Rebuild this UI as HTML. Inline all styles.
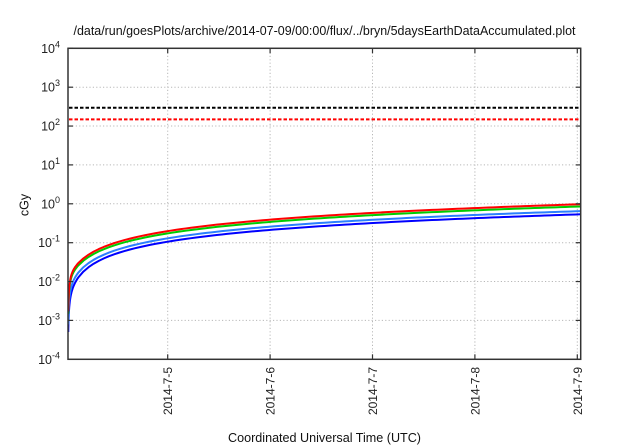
<!DOCTYPE html>
<html>
<head>
<meta charset="utf-8">
<style>
html,body{margin:0;padding:0;background:#fff;}
svg{display:block;font-family:"Liberation Sans",Arial,sans-serif;}
</style>
</head>
<body>
<svg id="s" width="640" height="448" viewBox="0 0 640 448" xmlns="http://www.w3.org/2000/svg">
<rect x="0" y="0" width="640" height="448" fill="#fff"/>
<defs><clipPath id="pc"><rect x="68" y="48.3" width="512.7" height="311"/></clipPath></defs>
<!-- grid -->
<g stroke="#b8b8b8" stroke-width="1" stroke-dasharray="1.2,2.2" fill="none">
<line x1="69" y1="87.2" x2="580" y2="87.2"/>
<line x1="69" y1="126.05" x2="580" y2="126.05"/>
<line x1="69" y1="164.9" x2="580" y2="164.9"/>
<line x1="69" y1="203.8" x2="580" y2="203.8"/>
<line x1="69" y1="242.7" x2="580" y2="242.7"/>
<line x1="69" y1="281.55" x2="580" y2="281.55"/>
<line x1="69" y1="320.4" x2="580" y2="320.4"/>
<line x1="167.7" y1="49" x2="167.7" y2="359"/>
<line x1="270.1" y1="49" x2="270.1" y2="359"/>
<line x1="372.5" y1="49" x2="372.5" y2="359"/>
<line x1="474.9" y1="49" x2="474.9" y2="359"/>
<line x1="577.3" y1="49" x2="577.3" y2="359"/>
</g>
<!-- dashed thresholds -->
<line x1="69" y1="107.7" x2="580" y2="107.7" stroke="#000" stroke-width="2" stroke-dasharray="3.5,2"/>
<line x1="69" y1="119.4" x2="580" y2="119.4" stroke="#ff0000" stroke-width="2" stroke-dasharray="3.5,2"/>
<!-- curves -->
<g id="curves" clip-path="url(#pc)" fill="none" stroke-width="2" stroke-linejoin="round"></g>
<!-- ticks -->
<g stroke="#333" stroke-width="1.2">
<line x1="68" y1="48.3" x2="73" y2="48.3"/><line x1="580.7" y1="48.3" x2="575.7" y2="48.3"/>
<line x1="68" y1="87.2" x2="73" y2="87.2"/><line x1="580.7" y1="87.2" x2="575.7" y2="87.2"/>
<line x1="68" y1="126.05" x2="73" y2="126.05"/><line x1="580.7" y1="126.05" x2="575.7" y2="126.05"/>
<line x1="68" y1="164.9" x2="73" y2="164.9"/><line x1="580.7" y1="164.9" x2="575.7" y2="164.9"/>
<line x1="68" y1="203.8" x2="73" y2="203.8"/><line x1="580.7" y1="203.8" x2="575.7" y2="203.8"/>
<line x1="68" y1="242.7" x2="73" y2="242.7"/><line x1="580.7" y1="242.7" x2="575.7" y2="242.7"/>
<line x1="68" y1="281.55" x2="73" y2="281.55"/><line x1="580.7" y1="281.55" x2="575.7" y2="281.55"/>
<line x1="68" y1="320.4" x2="73" y2="320.4"/><line x1="580.7" y1="320.4" x2="575.7" y2="320.4"/>
<line x1="167.7" y1="359.3" x2="167.7" y2="354.3"/><line x1="167.7" y1="48.3" x2="167.7" y2="53.3"/>
<line x1="270.1" y1="359.3" x2="270.1" y2="354.3"/><line x1="270.1" y1="48.3" x2="270.1" y2="53.3"/>
<line x1="372.5" y1="359.3" x2="372.5" y2="354.3"/><line x1="372.5" y1="48.3" x2="372.5" y2="53.3"/>
<line x1="474.9" y1="359.3" x2="474.9" y2="354.3"/><line x1="474.9" y1="48.3" x2="474.9" y2="53.3"/>
<line x1="577.3" y1="359.3" x2="577.3" y2="354.3"/><line x1="577.3" y1="48.3" x2="577.3" y2="53.3"/>
</g>
<!-- border -->
<rect x="68" y="48.3" width="512.7" height="311" fill="none" stroke="#333" stroke-width="1.5"/>
<!-- y tick labels -->
<g font-size="12.5" fill="#222" text-anchor="end">
<text x="60" y="52.8">10<tspan font-size="9" dy="-5.5">4</tspan></text>
<text x="60" y="91.7">10<tspan font-size="9" dy="-5.5">3</tspan></text>
<text x="60" y="130.5">10<tspan font-size="9" dy="-5.5">2</tspan></text>
<text x="60" y="169.4">10<tspan font-size="9" dy="-5.5">1</tspan></text>
<text x="60" y="208.3">10<tspan font-size="9" dy="-5.5">0</tspan></text>
<text x="60" y="247.2">10<tspan font-size="9" dy="-5.5">-1</tspan></text>
<text x="60" y="286">10<tspan font-size="9" dy="-5.5">-2</tspan></text>
<text x="60" y="324.9">10<tspan font-size="9" dy="-5.5">-3</tspan></text>
<text x="60" y="363.8">10<tspan font-size="9" dy="-5.5">-4</tspan></text>
</g>
<!-- x tick labels -->
<g font-size="12" fill="#222" text-anchor="end">
<text transform="translate(172.2,367) rotate(-90)">2014-7-5</text>
<text transform="translate(274.6,367) rotate(-90)">2014-7-6</text>
<text transform="translate(377,367) rotate(-90)">2014-7-7</text>
<text transform="translate(479.4,367) rotate(-90)">2014-7-8</text>
<text transform="translate(581.8,367) rotate(-90)">2014-7-9</text>
</g>
<!-- axis labels & title -->
<text x="324.5" y="35" font-size="12.5" fill="#111" text-anchor="middle" textLength="502" lengthAdjust="spacingAndGlyphs">/data/run/goesPlots/archive/2014-07-09/00:00/flux/../bryn/5daysEarthDataAccumulated.plot</text>
<text x="324.5" y="442" font-size="12.5" fill="#111" text-anchor="middle" textLength="193" lengthAdjust="spacingAndGlyphs">Coordinated Universal Time (UTC)</text>
<text transform="translate(28.5,205) rotate(-90)" font-size="12.5" fill="#111" text-anchor="middle">cGy</text>
</svg>
<script>
(function(){
  var g=document.getElementById('curves');
  var series=[
    {c:'#0000ff',k:0.535,b:0.002},
    {c:'#2a7fff',k:0.645,b:0.004},
    {c:'#00cc00',k:0.845,b:0.009},
    {c:'#ff0000',k:0.965,b:0.0105}
  ];
  function yv(v){return 203.8-38.875*Math.log10(v);}
  series.forEach(function(s){
    var pts=[];
    var fs=[];
    for(var f=0.0005;f<0.02;f*=1.25) fs.push(f);
    for(var f2=0.02;f2<=1.0001;f2+=0.01) fs.push(f2);
    fs.forEach(function(f){
      var d=s.k*f+s.b*(1-Math.exp(-f/0.004));
      var x=68+f*512.7;
      pts.push(x.toFixed(2)+','+yv(d).toFixed(2));
    });
    var p=document.createElementNS('http://www.w3.org/2000/svg','polyline');
    p.setAttribute('points',pts.join(' '));
    p.setAttribute('stroke',s.c);
    g.appendChild(p);
  });
})();
</script>
</body>
</html>
